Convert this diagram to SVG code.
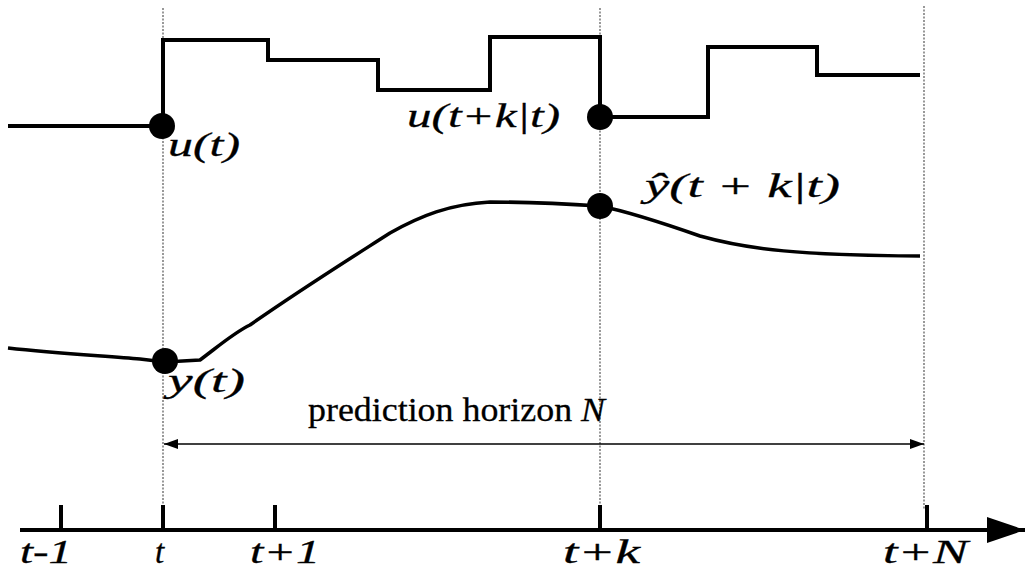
<svg xmlns="http://www.w3.org/2000/svg" width="1025" height="570" viewBox="0 0 1025 570">
<style>
.guide{stroke:#555;stroke-width:1.2;stroke-dasharray:2 1.5;fill:none}
.sig{stroke:#000;stroke-width:4;fill:none;stroke-linejoin:miter}
.curve{stroke:#000;stroke-width:3.5;fill:none;stroke-linejoin:round}
.tick{stroke:#000;stroke-width:4}
.m{font-family:"Liberation Serif",serif;font-style:italic;font-size:33px;fill:#000;stroke:#000;stroke-width:0.3}
.r{font-family:"Liberation Serif",serif;font-size:34px;fill:#000;stroke:#000;stroke-width:0.3}
</style>
<defs>
<marker id="ah" markerWidth="14" markerHeight="10" refX="14" refY="5" orient="auto-start-reverse" markerUnits="userSpaceOnUse">
<path d="M0,0 L14,5 L0,10 Z" fill="#000"/>
</marker>
<marker id="axh" markerWidth="38" markerHeight="26" refX="38" refY="13" orient="auto" markerUnits="userSpaceOnUse">
<path d="M0,0 L38,13 L0,26 Z" fill="#000"/>
</marker>
</defs>
<g id="guides">
<line class="guide" x1="163" y1="8" x2="163" y2="510"/>
<line class="guide" x1="600" y1="8" x2="600" y2="510"/>
<line class="guide" x1="924" y1="6" x2="924" y2="510"/>
</g>
<g id="connectors">
<line x1="164" y1="444" x2="924" y2="444" stroke="#000" stroke-width="1.5" marker-start="url(#ah)" marker-end="url(#ah)"/>
<line x1="20" y1="530" x2="1025" y2="530" stroke="#000" stroke-width="4" marker-end="url(#axh)"/>
</g>
<g id="axis">
<line class="tick" x1="61" y1="505" x2="61" y2="530"/>
<line class="tick" x1="163" y1="505" x2="163" y2="530"/>
<line class="tick" x1="275" y1="505" x2="275" y2="530"/>
<line class="tick" x1="600" y1="505" x2="600" y2="530"/>
<line class="tick" x1="927" y1="505" x2="927" y2="530"/>
<text class="m" x="20" y="563" textLength="52" lengthAdjust="spacingAndGlyphs">t-1</text>
<text class="m" x="155" y="563">t</text>
<text class="m" x="250" y="563" textLength="70" lengthAdjust="spacingAndGlyphs">t+1</text>
<text class="m" x="563" y="563" textLength="77" lengthAdjust="spacingAndGlyphs">t+k</text>
<text class="m" x="883" y="563" textLength="85" lengthAdjust="spacingAndGlyphs">t+N</text>
</g>
<g id="input-signal">
<path class="sig" d="M8,126 H163 V40 H268 V60 H378 V90 H490 V37 H600 V117 H708 V47 H817 V75 H920"/>
<circle cx="162" cy="126" r="13" fill="#000"/>
<circle cx="600" cy="117" r="13" fill="#000"/>
<text class="m" x="168" y="156" textLength="72" lengthAdjust="spacingAndGlyphs">u(t)</text>
<text class="m" x="407" y="127" textLength="153" lengthAdjust="spacingAndGlyphs">u(t+k|t)</text>
</g>
<g id="output-signal">
<path class="curve" d="M8,348 C60,354 110,356 140,359 L165,362 L200,360 C220,345 235,332 250,325 C300,290 340,265 390,233 C420,216 450,204 490,202 C540,202 570,204 600,206 C630,212 660,222 700,236 C750,250 800,255 920,256"/>
<circle cx="165" cy="361" r="13" fill="#000"/>
<circle cx="600" cy="206" r="13" fill="#000"/>
<text class="m" x="168" y="392" textLength="77" lengthAdjust="spacingAndGlyphs">y(t)</text>
<text class="m" x="645" y="197" textLength="195" lengthAdjust="spacingAndGlyphs">ŷ(t + k|t)</text>
</g>
<g id="horizon-label">
<text class="r" x="308" y="421" textLength="297" lengthAdjust="spacingAndGlyphs">prediction horizon <tspan font-style="italic">N</tspan></text>
</g>
</svg>
